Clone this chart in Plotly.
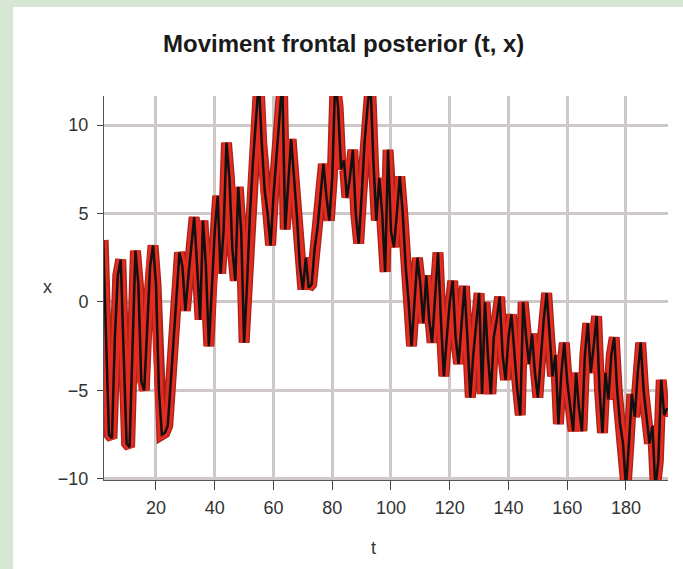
import plotly.graph_objects as go

t_values = list(range(2, 195))
x_values = [
    3.5, -2, -7.5, -7.7, -2, 1.5, 2.4, -3, -8, -8.2,
    -2, 2.9, 1, -4.5, -5, -1, 2, 3.2, 1, -5,
    -7.5, -7.4, -7, -4.6, -2, 0.5, 2.8, 2, -0.5, 1.4,
    3.3, 4.8, 2, -1, 4.6, 2, -2.5, 1, 4, 6.0,
    1.6, 4, 9.0, 7, 3, 1.2, 6.5, 4, -2.3, 1,
    5, 7.9, 10, 12.5, 9, 6.3, 5, 3.2, 6, 8,
    10.5, 12.5, 4.1, 7, 9.2, 7, 4.8, 2, 0.7, 2.5,
    0.8, 1, 3, 4.2, 6, 7.8, 6, 4.6, 7, 12.5,
    11, 7.5, 8, 5.9, 7, 8.6, 5, 3.3, 6, 9,
    11, 12.5, 8, 4.6, 7, 5, 1.7, 8.6, 4, 3.1,
    5, 7.1, 5, 2, 0, -2.5, 0, 2.5, 1, -1.2,
    1.5, -1, -2.3, 0.5, 2.8, -1, -4.2, -2, 0, 1.2,
    -2, -3.5, -1, 0.9, -2, -5.4, -3, -1, 0.5, -5.2,
    0, -3, -5.2, -2, -1, 0.3, -3, -4.4, -2, -0.7,
    -3, -5, -6.4, 0, -2, -3.5, -1.8, -4, -5.4, -3,
    -1, 0.5, -2, -4.2, -3, -6.9, -4, -2.3, -4.5, -6,
    -7.3, -4, -6, -7.3, -3, -1.2, -4, -2.5, -0.8, -5,
    -7.4, -4, -5.5, -3, -2, -5, -6.9, -8, -10.5, -8,
    -5.2, -6.5, -4, -2.3, -5, -6.5, -8, -7, -10.5, -9,
    -4.4, -6.4, -6,
]

x_ticks = [20, 40, 60, 80, 100, 120, 140, 160, 180]
y_ticks = [-10, -5, 0, 5, 10]
y_tick_text = ["\u221210", "\u22125", "0", "5", "10"]
title_text = "Moviment frontal posterior (t, x)"

font_fam = "Liberation Sans, Arial, sans-serif"

fig = go.Figure()
fig.add_trace(go.Scatter(x=t_values, y=x_values, mode="lines",
                         line=dict(color="#a4231a", width=11), hoverinfo="skip"))
fig.add_trace(go.Scatter(x=t_values, y=x_values, mode="lines",
                         line=dict(color="#e52b1f", width=8.5), hoverinfo="skip"))
fig.add_trace(go.Scatter(x=t_values, y=x_values, mode="lines",
                         line=dict(color="#111111", width=2.5)))

W, H = 683, 569
L, R, T, B = 104, 15, 96, 89
pw, ph = W - L - R, H - T - B

def px_to_paper_x(px):
    return (px - L) / pw

def py_to_paper_y(py):
    return (H - B - py) / ph

shapes = [
    dict(type="rect", xref="paper", yref="paper",
         x0=px_to_paper_x(-5), x1=px_to_paper_x(13),
         y0=py_to_paper_y(H + 5), y1=py_to_paper_y(-5),
         fillcolor="#d6e7d4", line=dict(width=0), layer="below"),
    dict(type="rect", xref="paper", yref="paper",
         x0=px_to_paper_x(-5), x1=px_to_paper_x(W + 5),
         y0=py_to_paper_y(7), y1=py_to_paper_y(-5),
         fillcolor="#d6e7d4", line=dict(width=0), layer="below"),
]

annotations = [
    dict(text=title_text, xref="paper", yref="paper",
         x=px_to_paper_x(343), y=py_to_paper_y(43), showarrow=False,
         xanchor="center", yanchor="middle",
         font=dict(family=font_fam, size=24, color="#1a1a1a", weight="bold")),
    dict(text="t", xref="paper", yref="paper",
         x=px_to_paper_x(373), y=py_to_paper_y(548), showarrow=False,
         xanchor="center", yanchor="middle",
         font=dict(family=font_fam, size=18, color="#333333")),
    dict(text="x", xref="paper", yref="paper",
         x=px_to_paper_x(47), y=py_to_paper_y(287), showarrow=False,
         xanchor="center", yanchor="middle",
         font=dict(family=font_fam, size=18, color="#333333")),
]

fig.update_layout(
    width=W, height=H,
    margin=dict(l=L, r=R, t=T, b=B),
    paper_bgcolor="white", plot_bgcolor="white",
    showlegend=False,
    shapes=shapes, annotations=annotations,
    font=dict(family=font_fam, size=18, color="#333333"),
)
fig.update_xaxes(range=[2.3, 194.3], tickvals=x_ticks, ticks="outside",
                 ticklen=9, tickcolor="#444", tickwidth=1,
                 showline=True, linecolor="#555", linewidth=1,
                 showgrid=True, gridcolor="#cfc8c8", gridwidth=3,
                 zeroline=False, ticklabelstandoff=2)
fig.update_yaxes(range=[-10.06, 11.64], tickvals=y_ticks, ticktext=y_tick_text,
                 ticks="outside", ticklen=6, tickcolor="#444", tickwidth=1,
                 showline=True, linecolor="#555", linewidth=1,
                 showgrid=True, gridcolor="#cfc8c8", gridwidth=3,
                 zeroline=False, ticklabelstandoff=5)

fig.write_html("out.html")
